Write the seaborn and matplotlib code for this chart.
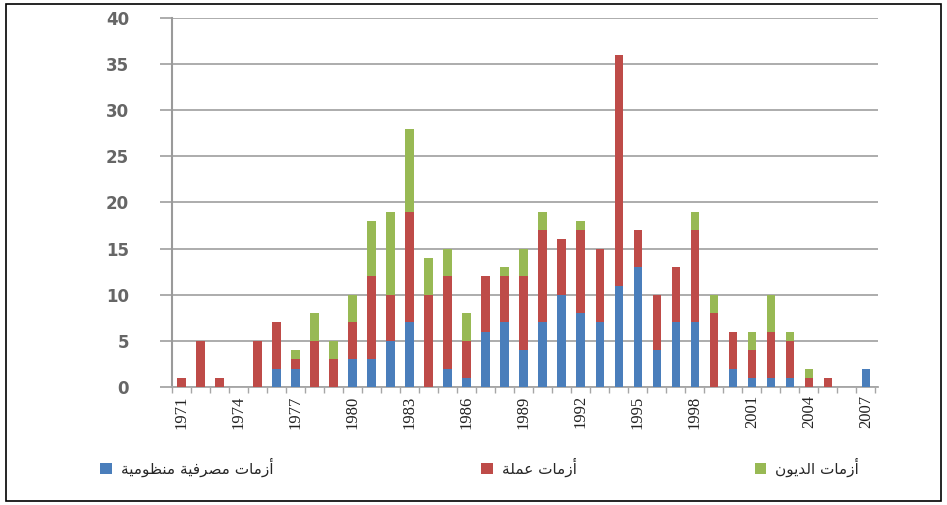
import numpy as np
import pandas as pd
import matplotlib
matplotlib.use("Agg")
import matplotlib.pyplot as plt
from matplotlib.patches import Patch, Rectangle
import seaborn as sns

# data (number of crises per year)
years = list(range(1971, 2008))
banking = [0, 0, 0, 0, 0, 2, 2, 0, 0, 3, 3, 5, 7, 0, 2, 1, 6, 7, 4, 7,
           10, 8, 7, 11, 13, 4, 7, 7, 0, 2, 1, 1, 1, 0, 0, 0, 2]
currency = [1, 5, 1, 0, 5, 5, 1, 5, 3, 4, 9, 5, 12, 10, 10, 4, 6, 5, 8, 10,
            6, 9, 8, 25, 4, 6, 6, 10, 8, 4, 3, 5, 4, 1, 1, 0, 0]
debt = [0, 0, 0, 0, 0, 0, 1, 3, 2, 3, 6, 9, 9, 4, 3, 3, 0, 1, 3, 2,
        0, 1, 0, 0, 0, 0, 0, 2, 2, 0, 2, 4, 1, 1, 0, 0, 0]
yticks = [0, 5, 10, 15, 20, 25, 30, 35, 40]

labels = ["أزمات مصرفية منظومية", "أزمات عملة", "أزمات الديون"]
colors = ["#4a7ebb", "#be4b48", "#98b954"]

# no arabic shaping in matplotlib -> small helper with presentation forms
FORMS = {
    "أ": ("\ufe83", "\ufe84", None, None),
    "ا": ("\ufe8d", "\ufe8e", None, None),
    "ت": ("\ufe95", "\ufe96", "\ufe97", "\ufe98"),
    "ة": ("\ufe93", "\ufe94", None, None),
    "د": ("\ufea9", "\ufeaa", None, None),
    "ر": ("\ufead", "\ufeae", None, None),
    "ز": ("\ufeaf", "\ufeb0", None, None),
    "ص": ("\ufeb9", "\ufeba", "\ufebb", "\ufebc"),
    "ظ": ("\ufec5", "\ufec6", "\ufec7", "\ufec8"),
    "ع": ("\ufec9", "\ufeca", "\ufecb", "\ufecc"),
    "ف": ("\ufed1", "\ufed2", "\ufed3", "\ufed4"),
    "ل": ("\ufedd", "\ufede", "\ufedf", "\ufee0"),
    "م": ("\ufee1", "\ufee2", "\ufee3", "\ufee4"),
    "ن": ("\ufee5", "\ufee6", "\ufee7", "\ufee8"),
    "و": ("\ufeed", "\ufeee", None, None),
    "ي": ("\ufef1", "\ufef2", "\ufef3", "\ufef4"),
}


def shape_ar(text):
    out = []
    for i, ch in enumerate(text):
        if ch not in FORMS:
            out.append(ch)
            continue
        prev = text[i - 1] if i > 0 else " "
        nxt = text[i + 1] if i < len(text) - 1 else " "
        iso, fin, ini, med = FORMS[ch]
        join_prev = prev in FORMS and FORMS[prev][2] is not None
        join_next = nxt in FORMS and ini is not None
        if join_prev and join_next:
            out.append(med)
        elif join_prev:
            out.append(fin)
        elif join_next:
            out.append(ini)
        else:
            out.append(iso)
    return "".join(out)[::-1]


df = pd.DataFrame({"year": [str(y) for y in years],
                   "banking": banking, "currency": currency, "debt": debt})

sns.set_theme(style="white")
plt.rcParams["font.family"] = ["DejaVu Sans"]

fig = plt.figure(figsize=(9.47, 5.05), dpi=100)
ax = fig.add_axes([0.1816, 0.2337, 0.7455, 0.7307])

bottom = np.zeros(len(years))
for col, c in zip(["banking", "currency", "debt"], colors):
    sns.barplot(data=df, x="year", y=col, color=c, saturation=1,
                width=0.45, errorbar=None, bottom=bottom, ax=ax, zorder=3,
                linewidth=0)
    bottom = bottom + df[col].values

ax.set_ylim(0, 40)
ax.set_xlim(-0.47, 36.63)
ax.set_yticks(yticks)
ax.set_yticklabels([str(t) for t in yticks], fontsize=12, fontweight="bold",
                   color="#666666")
ax.yaxis.grid(True, color="#a6a6a6", linewidth=1.3, zorder=0)
ax.tick_params(axis="y", length=9, width=1.3, color="#a6a6a6", pad=22, left=True)

tick_pos = list(range(0, len(years), 3))
ax.set_xticks(tick_pos)
ax.set_xticklabels([str(years[i]) for i in tick_pos], rotation=90,
                   fontsize=12, family="Liberation Serif", color="#222222")
ax.set_xticks(np.arange(-0.5, len(years), 1), minor=True)
ax.tick_params(axis="x", which="major", length=0, pad=6)
ax.tick_params(axis="x", which="minor", length=4, width=1, color="#a6a6a6",
               bottom=True)
ax.set_xlabel("")
ax.set_ylabel("")

for s in ["top", "right"]:
    ax.spines[s].set_visible(False)
ax.spines["left"].set_color("#9a9a9a")
ax.spines["left"].set_linewidth(1.5)
ax.spines["bottom"].set_color("#a6a6a6")
ax.spines["bottom"].set_linewidth(1.3)

# legend entries sit at fixed places along the bottom
legend_x = [0.106, 0.508, 0.797]
for lab, c, lx in zip(labels, colors, legend_x):
    fig.legend(handles=[Patch(facecolor=c, edgecolor="none")],
               labels=[shape_ar(lab)], loc="center left",
               bbox_to_anchor=(lx, 0.075), frameon=False, fontsize=11,
               handlelength=0.75, handleheight=0.75, handletextpad=0.6,
               borderpad=0, borderaxespad=0)

fig.patches.append(Rectangle((0.006, 0.008), 0.988, 0.984, fill=False,
                             edgecolor="black", linewidth=1.2,
                             transform=fig.transFigure, figure=fig))

fig.savefig("out.png", dpi=100, facecolor="white")
